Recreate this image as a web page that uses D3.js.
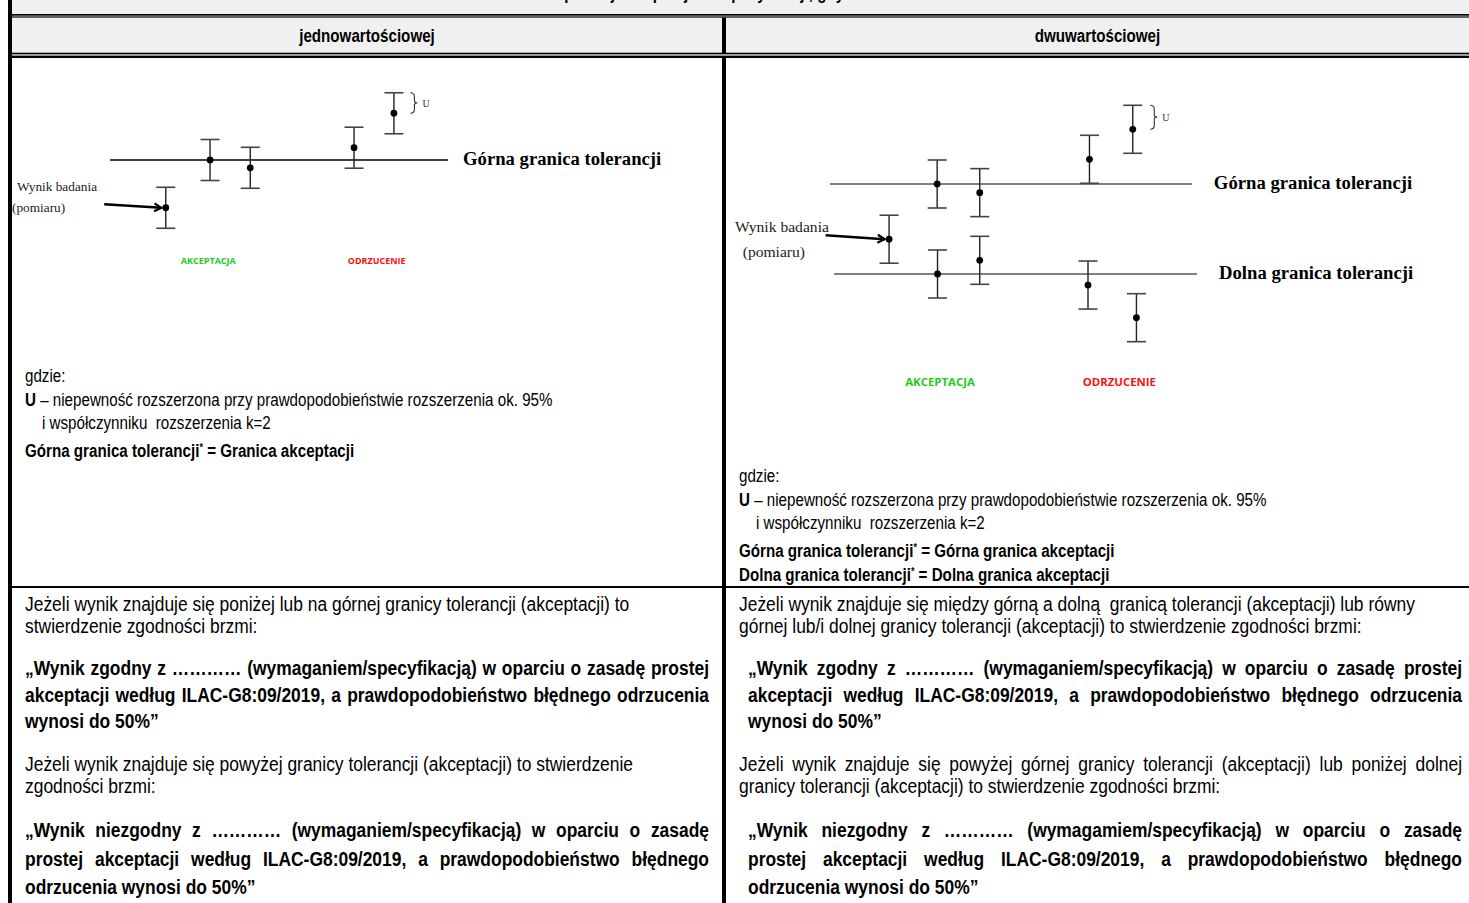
<!DOCTYPE html>
<html lang="pl">
<head>
<meta charset="UTF-8">
<title>Zasada prostej akceptacji</title>
<script src="https://d3js.org/d3.v7.min.js"></script>
<style>
  body { margin: 0; background: #fff; }
  svg { display: block; }
  text { white-space: pre; }
</style>
</head>
<body>
<svg id="chart" width="1469" height="903"></svg>
<script>
// ---------- data ----------
const titleText = "Zasada prostej akceptacji dla specyfikacji, gdy";
const columns = ["jednowartościowej", "dwuwartościowej"];

// single limit: position along the limit line (0-100), measured value (limit = 0, unit = U)
const singleX = [16.5, 29.6, 41.5, 72.2, 84.0];
const singleY = [-2.33, 0, -0.38, 0.6, 2.28];
const singleLimits = [0];

// two limits: lower limit = 0, upper limit = 3.75 (unit = U)
const doubleX = [16.1, 29.2, 40.8, 70.7, 82.5, 29.3, 40.8, 70.3, 83.5];
const doubleY = [1.45, 3.75, 3.39, 4.78, 6.03, 0, 0.57, -0.46, -1.82];
const doubleLimits = [3.75, 0];
const U = 1;

const limitNames = ["Górna granica tolerancji", "Dolna granica tolerancji"];
const resultLabel = ["Wynik badania", "(pomiaru)"];
const zoneLabels = ["AKCEPTACJA", "ODRZUCENIE"];

const legendLeft = [
  [["gdzie:", 0]],
  [["U", 1], [" – niepewność rozszerzona przy prawdopodobieństwie rozszerzenia ok. 95%", 0]],
  [["i współczynniku  rozszerzenia k=2", 0]],
  [["Górna granica tolerancji", 1], ["*", 2], [" = Granica akceptacji", 1]]
];
const legendRight = [
  [["gdzie:", 0]],
  [["U", 1], [" – niepewność rozszerzona przy prawdopodobieństwie rozszerzenia ok. 95%", 0]],
  [["i współczynniku  rozszerzenia k=2", 0]],
  [["Górna granica tolerancji", 1], ["*", 2], [" = Górna granica akceptacji", 1]],
  [["Dolna granica tolerancji", 1], ["*", 2], [" = Dolna granica akceptacji", 1]]
];

const textLeft = [
  ["Jeżeli wynik znajduje się poniżej lub na górnej granicy tolerancji (akceptacji) to",
   "stwierdzenie zgodności brzmi:"],
  ["„Wynik zgodny z ………… (wymaganiem/specyfikacją) w oparciu o zasadę prostej",
   "akceptacji według ILAC-G8:09/2019, a prawdopodobieństwo błędnego odrzucenia",
   "wynosi do 50%”"],
  ["Jeżeli wynik znajduje się powyżej granicy tolerancji (akceptacji) to stwierdzenie",
   "zgodności brzmi:"],
  ["„Wynik niezgodny z ………… (wymaganiem/specyfikacją) w oparciu o zasadę",
   "prostej akceptacji według ILAC-G8:09/2019, a prawdopodobieństwo błędnego",
   "odrzucenia wynosi do 50%”"]
];
const textRight = [
  ["Jeżeli wynik znajduje się między górną a dolną  granicą tolerancji (akceptacji) lub równy",
   "górnej lub/i dolnej granicy tolerancji (akceptacji) to stwierdzenie zgodności brzmi:"],
  ["„Wynik zgodny z ………… (wymaganiem/specyfikacją) w oparciu o zasadę prostej",
   "akceptacji według ILAC-G8:09/2019, a prawdopodobieństwo błędnego odrzucenia",
   "wynosi do 50%”"],
  ["Jeżeli wynik znajduje się powyżej górnej granicy tolerancji (akceptacji) lub poniżej dolnej",
   "granicy tolerancji (akceptacji) to stwierdzenie zgodności brzmi:"],
  ["„Wynik niezgodny z ………… (wymagamiem/specyfikacją) w oparciu o zasadę",
   "prostej akceptacji według ILAC-G8:09/2019, a prawdopodobieństwo błędnego",
   "odrzucenia wynosi do 50%”"]
];

// ---------- fonts ----------
const hasNarrow = (() => {
  const c = document.createElement("canvas").getContext("2d");
  c.font = "20px monospace";
  const a = c.measureText("wwwiiilll mmm").width;
  c.font = "20px 'Liberation Sans Narrow', monospace";
  return c.measureText("wwwiiilll mmm").width !== a;
})();
const SANS = "'Liberation Sans Narrow','Arial Narrow','Liberation Sans',Arial,sans-serif";
const SERIF = "'Liberation Serif','Times New Roman',serif";
const squeeze = hasNarrow ? 1 : 0.82;
const FS = 18.5;       // headers and legend
const FS_BODY = 19.5;  // statements in the bottom row, drawn a bit wider
const BODY_WIDEN = 1.09;

const svg = d3.select("#chart");
const W = 1469, H = 903;
const colX = [12, 722, 726, W];

// ---------- table frame ----------
svg.append("rect").attr("x", 12).attr("y", 0).attr("width", W - 12).attr("height", 14).attr("fill", "#f0f0f0");
svg.append("rect").attr("x", 12).attr("y", 17.5).attr("width", W - 12).attr("height", 35.5).attr("fill", "#f0f0f0");

// title row, cut off at the top edge of the page
svg.append("g").attr("transform", `translate(676,-1) scale(${squeeze},1)`)
  .append("text").attr("text-anchor", "middle").attr("font-family", SANS)
  .attr("font-weight", "bold").attr("font-size", FS).text(titleText);

const black = (x, y, w, h) => svg.append("rect").attr("x", x).attr("y", y).attr("width", w).attr("height", h).attr("fill", "#000");
black(8, 0, 4, H);                 // outer left border
black(12, 14, W - 12, 1.7);        // double line under title
black(12, 16.4, W - 12, 1.2);
black(722, 17.5, 4, 35.5);         // column divider, header
black(722, 58, 4, H - 58);         // column divider, body
black(12, 52.7, W - 12, 1.7);      // double line under header
black(12, 55.6, W - 12, 2.4);
black(12, 586, W - 12, 2);         // between diagram and text rows

// column headers
columns.forEach((c, i) => {
  svg.append("g").attr("transform", `translate(${(colX[i * 2] + colX[i * 2 + 1]) / 2},41.5) scale(${squeeze},1)`)
    .append("text").attr("text-anchor", "middle").attr("font-family", SANS)
    .attr("font-weight", "bold").attr("font-size", FS).text(c);
});

// ---------- diagrams ----------
function diagram(cfg) {
  const g = svg.append("g");
  const x = d3.scaleLinear().domain([0, 100]).range(cfg.xRange);
  const y = d3.scaleLinear().domain(cfg.yDomain).range(cfg.yRange);

  cfg.limits.forEach((v, i) => {
    g.append("line").attr("x1", x(cfg.lineExt[i][0])).attr("x2", x(cfg.lineExt[i][1]))
      .attr("y1", y(v)).attr("y2", y(v)).attr("stroke", cfg.lineColor).attr("stroke-width", 1.6);
    g.append("text").attr("x", x(cfg.lineExt[i][1]) + cfg.nameGap).attr("y", y(v) + 4.5)
      .attr("font-family", SERIF).attr("font-weight", "bold").attr("font-size", 18.7)
      .text(limitNames[i]);
  });

  const pts = cfg.xs.map((d, i) => ({ x: d, v: cfg.ys[i] }));
  const bars = g.selectAll(".bar").data(pts).join("g").attr("class", "bar");
  bars.append("line").attr("x1", d => x(d.x)).attr("x2", d => x(d.x))
    .attr("y1", d => y(d.v + U)).attr("y2", d => y(d.v - U)).attr("stroke", "#222").attr("stroke-width", 1.4);
  [1, -1].forEach(s => {
    bars.append("line").attr("x1", d => x(d.x) - 9.5).attr("x2", d => x(d.x) + 9.5)
      .attr("y1", d => y(d.v + s * U)).attr("y2", d => y(d.v + s * U))
      .attr("stroke", "#444").attr("stroke-width", 1.6);
  });
  bars.append("circle").attr("cx", d => x(d.x)).attr("cy", d => y(d.v)).attr("r", 3.4).attr("fill", "#000");

  // brace marking U on the highest result
  const top = pts[d3.maxIndex(pts, d => d.v)];
  const bx = x(top.x) + cfg.braceGap, y0 = y(top.v + U), y1 = y(top.v), ym = (y0 + y1) / 2;
  g.append("path").attr("fill", "none").attr("stroke", "#333").attr("stroke-width", 1.1)
    .attr("d", `M${bx},${y0} Q${bx + 4},${y0} ${bx + 4},${y0 + 4} L${bx + 4},${ym - 2} Q${bx + 4},${ym} ${bx + 7},${ym}` +
      ` Q${bx + 4},${ym} ${bx + 4},${ym + 2} L${bx + 4},${y1 - 4} Q${bx + 4},${y1} ${bx},${y1}`);
  g.append("text").attr("x", bx + 12).attr("y", ym + 3.5).attr("font-family", SERIF)
    .attr("font-size", cfg.uSize).attr("fill", "#333").text("U");

  // arrow to the first result
  const first = pts[0];
  const ex = x(first.x) - 4.5, ey = y(first.v);
  const sx = ex - cfg.arrow[0], sy = ey - cfg.arrow[1];
  g.append("line").attr("x1", sx).attr("y1", sy).attr("x2", ex).attr("y2", ey)
    .attr("stroke", "#000").attr("stroke-width", 2.4);
  const ang = Math.atan2(ey - sy, ex - sx) * 180 / Math.PI;
  g.append("path").attr("d", "M-7,-4L0,0L-7,4").attr("fill", "none").attr("stroke", "#000")
    .attr("stroke-width", 2.2).attr("transform", `translate(${ex},${ey}) rotate(${ang})`);

  resultLabel.forEach((t, i) => {
    g.append("text").attr("x", cfg.resPos[i][0]).attr("y", cfg.resPos[i][1])
      .attr("font-family", SERIF).attr("font-size", cfg.resSize).attr("fill", "#222").text(t);
  });

  zoneLabels.forEach((t, i) => {
    g.append("text").attr("x", cfg.zoneX[i]).attr("y", cfg.zoneY).attr("text-anchor", "middle")
      .attr("font-family", "'Open Sans',sans-serif").attr("font-weight", "bold")
      .attr("font-size", cfg.zoneSize).attr("fill", i ? "#ff1010" : "#22cc22").text(t);
  });
}

diagram({
  xs: singleX, ys: singleY, limits: singleLimits,
  xRange: [110, 448], yDomain: [-3, 3], yRange: [221.5, 98.5],
  lineExt: [[0, 100]], lineColor: "#000", nameGap: 15,
  braceGap: 16.5, uSize: 10, arrow: [57, 3.5],
  resPos: [[17, 191], [12, 211.5]], resSize: 13.3,
  zoneX: [208.3, 376.7], zoneY: 263.5, zoneSize: 9
});
diagram({
  xs: doubleX, ys: doubleY, limits: doubleLimits,
  xRange: [830, 1197], yDomain: [-2, 6.5], yRange: [322, 118],
  lineExt: [[0, 98.6], [1.1, 100]], lineColor: "#555", nameGap: 22,
  braceGap: 17.5, uSize: 10, arrow: [59, 4],
  resPos: [[735, 231.5], [742.7, 256.5]], resSize: 15.6,
  zoneX: [940, 1119.3], zoneY: 386, zoneSize: 11.4
});

// ---------- text helpers ----------
function line(parts, x, y, width, bold, size, widen) {
  const sx = squeeze * (widen || 1);
  const g = svg.append("g").attr("transform", `translate(${x},${y}) scale(${sx},1)`);
  const t = g.append("text").attr("font-family", SANS).attr("font-size", size || FS).attr("fill", "#000");
  let up = false;
  parts.forEach(([s, kind]) => {
    const sp = t.append("tspan").text(s)
      .attr("font-weight", (kind === 1 || kind === 2 || bold) ? "bold" : "normal");
    if (kind === 2) { sp.attr("dy", -6).attr("font-size", 11); up = true; }
    else if (up) { sp.attr("dy", 6); up = false; }
  });
  if (width) {
    const str = parts.map(p => p[0]).join("");
    const spaces = (str.match(/ /g) || []).length;
    const natural = t.node().getComputedTextLength();
    if (spaces) t.attr("word-spacing", (width / sx - natural) / spaces);
  }
}

// legends
legendLeft.forEach((p, i) => line(p, i === 2 ? 42 : 25, [382, 406, 429, 457][i]));
legendRight.forEach((p, i) => line(p, i === 2 ? 756 : 739, [482, 506, 529, 557, 581][i]));

// text row
const paraY = [[611, 633], [675, 702, 728], [771, 793], [837, 866, 894]];
const layouts = [
  { lines: textLeft, x: [25, 25, 25, 25], right: 709, justify: [0, 1, 0, 1] },
  { lines: textRight, x: [739, 748, 739, 748], right: 1462, justify: [0, 1, 1, 1] }
];
layouts.forEach(L => {
  L.lines.forEach((para, pi) => {
    const bold = pi % 2 === 1;
    para.forEach((s, li) => {
      const last = li === para.length - 1;
      const w = L.justify[pi] && !last ? L.right - L.x[pi] : null;
      line([[s, 0]], L.x[pi], paraY[pi][li], w, bold, FS_BODY, BODY_WIDEN);
    });
  });
});
</script>
</body>
</html>
